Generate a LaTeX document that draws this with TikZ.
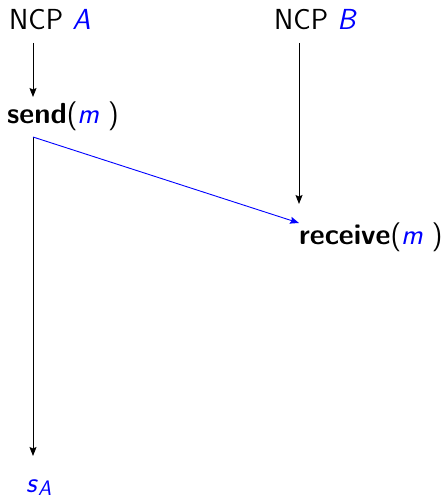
\documentclass[tikz,border=0pt]{standalone}
\usepackage{fontspec}
\usetikzlibrary{arrows.meta}
\begin{document}
\begin{tikzpicture}[x=1pt,y=-1pt,
  lbl/.style={inner sep=0pt, font=\fontsize{29}{34}\selectfont\sffamily},
  flow/.style={line width=0.9pt, -{Stealth[length=9pt,width=7pt,inset=1.5pt]}},
  msg/.style={flow, blue}]
\useasboundingbox (0,0) rectangle (446,500);
\node[lbl, anchor=base west] (ncpA) at (9,30) {NCP \textcolor{blue}{\textit{A}}};
\node[lbl, anchor=base west] (ncpB) at (274,30) {NCP \textcolor{blue}{\textit{B}}};
\node[lbl, anchor=base west] (send) at (7,123) {\textbf{send}(\textcolor{blue}{\textit{m}}~)};
\node[lbl, anchor=base west] (recv) at (299,244) {\textbf{receive}(\textcolor{blue}{\textit{m}}~)};
\node[lbl, anchor=base west, blue] (sA) at (26,492) {\textit{s}\raisebox{-0.3ex}{\fontsize{21}{22}\selectfont\textit{A}}};
\coordinate (a0) at (33,43);
\coordinate (a1) at (33,97);
\coordinate (a2) at (33,137);
\coordinate (a3) at (33,456);
\coordinate (b0) at (299,43);
\coordinate (b1) at (299,204);
\coordinate (r0) at (299,223);
\draw[flow] (a0) -- (a1);
\draw[flow] (a2) -- (a3);
\draw[flow] (b0) -- (b1);
\draw[msg] (a2) -- (r0);
\end{tikzpicture}
\end{document}
